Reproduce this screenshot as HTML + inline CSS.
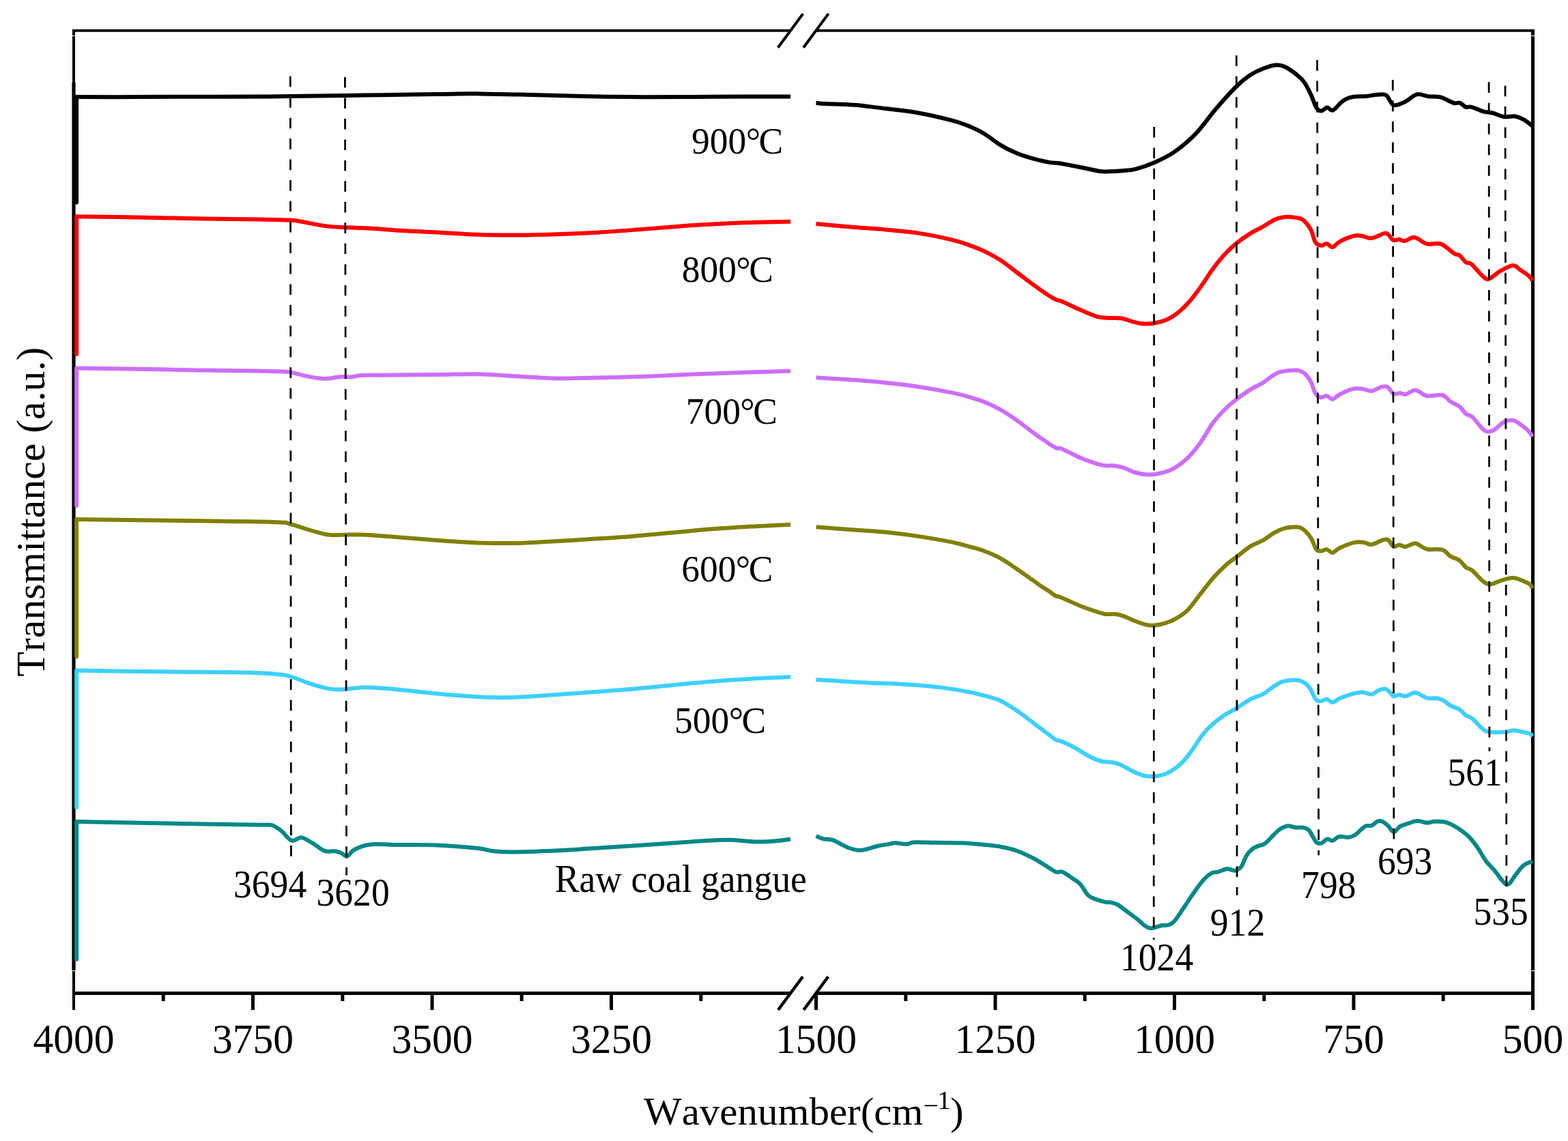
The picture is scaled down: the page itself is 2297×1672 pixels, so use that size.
<!DOCTYPE html>
<html lang="en"><head><meta charset="utf-8"><title>FTIR spectra of coal gangue calcined at different temperatures</title>
<style>html,body{margin:0;padding:0;background:#fff}body{width:2297px;height:1672px;overflow:hidden}svg{display:block}text{font-family:"Liberation Serif","Noto Serif CJK SC",serif;fill:#000;font-kerning:none}.t{font-size:59.6px;text-anchor:middle}.l{font-size:53.6px}.a{font-size:59px}.c{fill:none;stroke-width:6;stroke-linejoin:round;stroke-linecap:butt}.d{stroke:#000;stroke-width:2.75;stroke-dasharray:15.6 14.87;fill:none}.x{stroke:#000;fill:none}</style></head><body>
<svg width="2297" height="1672" viewBox="0 0 2297 1672">
<desc>FTIR spectra of raw coal gangue and of coal gangue calcined at 500℃, 600℃, 700℃, 800℃ and 900℃.</desc>
<rect width="2297" height="1672" fill="#fff"/>
<g class="x">
<line x1="108" y1="43" x2="108" y2="52" stroke-width="4"/>
<line x1="108" y1="53" x2="108" y2="121" stroke-width="4"/>
<line x1="108" y1="121" x2="108" y2="1422" stroke-width="5.2"/>
<line x1="108" y1="1423" x2="108" y2="1480" stroke-width="4"/>
<path d="M106,44.9H1157M1196.5,44.9H2248" stroke-width="3.8"/>
<path d="M2245.5,43V52M2245.5,53V1422M2245.5,1423V1480" stroke-width="5"/>
<path d="M106,1455.5H1157M1195.5,1455.5H2248" stroke-width="5"/>
<path d="M370.5,1455.5V1480M633,1455.5V1480M895.5,1455.5V1480M1195.5,1455.5V1480M1458,1455.5V1480M1720.5,1455.5V1480M1983,1455.5V1480" stroke-width="5"/>
<path d="M239.2,1455.5V1467M501.8,1455.5V1467M764.2,1455.5V1467M1026.8,1455.5V1467M1326.8,1455.5V1467M1589.2,1455.5V1467M1851.8,1455.5V1467M2114.2,1455.5V1467" stroke-width="5"/>
<line x1="1139.7" y1="69.7" x2="1176.3" y2="20.1" stroke-width="4.0"/>
<line x1="1177" y1="69.7" x2="1213.6" y2="20.1" stroke-width="4.0"/>
<line x1="1140" y1="1479.9" x2="1176" y2="1431.1" stroke-width="4.3"/>
<line x1="1177.3" y1="1479.9" x2="1213.3" y2="1431.1" stroke-width="4.3"/>
</g>
<g class="c" stroke="#008888">
<path d="M112.1,1405.8V1203.9" stroke-linecap="round"/>
<path d="M112.1,1203.9C125.1,1204.2 164.2,1205 190,1205.5C215.8,1206 243.4,1206.6 266.7,1207C290,1207.4 310.3,1207.7 330,1208C349.7,1208.3 373.8,1208.5 385,1208.7C396.2,1208.9 394.2,1208.6 397,1208.9C399.8,1209.2 399,1209.2 401.5,1210.6C404,1212 407.6,1213.9 411.9,1217.4C416.2,1220.9 422.6,1230.1 427.4,1231.7C432.2,1233.3 436.7,1227.4 440.5,1227.2C444.3,1227 446.2,1228.8 450,1230.8C453.8,1232.8 458.6,1236.3 463,1239C467.4,1241.7 471.6,1245.8 476.2,1247.2C480.8,1248.6 486.5,1246.7 490.5,1247.2C494.5,1247.7 497,1248.7 500,1250C503,1251.3 505.5,1255.5 508.3,1255C511.1,1254.5 513.3,1249.1 516.7,1246.7C520.1,1244.3 523.9,1242.4 528.6,1240.8C533.4,1239.2 537.3,1237.7 545.2,1237.2C553.1,1236.7 560.4,1237.7 576.2,1237.9C592,1238.1 619.5,1237.5 640,1238.4C660.5,1239.3 685.6,1241.6 699.5,1243.1C713.4,1244.6 714.5,1246.3 723.3,1247.2C732,1248.1 736.1,1248.8 752,1248.6C767.9,1248.4 798.9,1247.1 818.6,1246.2C838.3,1245.3 852.1,1244.1 870,1243C887.9,1241.9 907.4,1240.8 925.7,1239.6C944,1238.4 962.1,1237.1 980,1235.8C997.9,1234.5 1018.1,1232.8 1032.9,1232C1047.7,1231.2 1059.1,1230.8 1068.6,1230.8C1078.1,1230.8 1082.9,1231.7 1090,1232.2C1097.1,1232.7 1103.1,1233.6 1111.4,1233.6C1119.7,1233.6 1132.2,1232.7 1140,1232C1147.8,1231.3 1155,1230 1158,1229.6"/>
<path d="M1195.5,1225.2C1197.3,1225.9 1202,1228.3 1206.2,1229.3C1210.4,1230.3 1214.5,1229.1 1220.5,1231.2C1226.5,1233.3 1235.2,1239.4 1241.9,1241.9C1248.7,1244.4 1253.8,1246.3 1261,1246C1268.2,1245.7 1278.1,1241.5 1284.8,1240C1291.5,1238.5 1296.9,1237.9 1301.4,1237.1C1306,1236.3 1307.7,1235.2 1312.1,1235.2C1316.5,1235.2 1323,1237.2 1327.6,1237.1C1332.2,1236.9 1332.3,1234.7 1339.5,1234.3C1346.7,1233.9 1359,1234.6 1370.5,1234.8C1382,1235 1396.7,1234.7 1408.6,1235.2C1420.5,1235.7 1432,1236.9 1441.9,1237.9C1451.8,1238.9 1460.2,1239.7 1468.1,1241.2C1476,1242.7 1482,1244 1489.5,1246.7C1497,1249.4 1506.5,1254 1513.3,1257.4C1520,1260.9 1524.4,1264 1530,1267.4C1535.6,1270.8 1542.3,1275.9 1546.7,1277.6C1551.1,1279.3 1552.2,1276.1 1556.2,1277.6C1560.2,1279.1 1566.1,1283.7 1570.5,1286.7C1574.9,1289.7 1578.4,1291.3 1582.4,1295.5C1586.4,1299.7 1590.3,1308.3 1594.3,1312.1C1598.3,1315.9 1601.8,1316.4 1606.2,1318.1C1610.6,1319.8 1616.9,1321.4 1620.5,1322.1C1624.1,1322.8 1624.8,1321.8 1627.6,1322.4C1630.4,1323 1633.1,1323.4 1637.1,1325.7C1641.1,1328 1646.6,1332.5 1651.4,1336C1656.2,1339.5 1661.3,1343.2 1665.7,1346.7C1670.1,1350.2 1674.6,1354.7 1677.6,1356.9C1680.6,1359.1 1681.6,1359.3 1683.6,1359.8C1685.6,1360.3 1686.5,1360.4 1689.5,1359.8C1692.5,1359.2 1697.8,1356.9 1701.4,1356.2C1705,1355.5 1707.9,1356.5 1711,1355.5C1714.1,1354.5 1716.1,1354.5 1720,1350.2C1723.9,1346 1729.5,1336.9 1734.3,1330C1739.1,1323.1 1743.8,1315.3 1748.6,1308.6C1753.4,1301.8 1758.5,1294.3 1762.9,1289.5C1767.3,1284.7 1771.2,1281.5 1774.8,1279.5C1778.4,1277.5 1780.5,1278.6 1784.3,1277.6C1788.1,1276.6 1793.8,1273.7 1797.4,1273.3C1801,1272.9 1803.3,1274.9 1805.7,1275.2C1808.1,1275.5 1809.5,1276.2 1811.7,1275.2C1813.9,1274.2 1816.4,1272.9 1818.8,1269.3C1821.2,1265.7 1823.4,1258 1826,1253.8C1828.6,1249.6 1831.3,1246.7 1834.3,1244.3C1837.3,1241.9 1840.6,1240.9 1843.8,1239.5C1847,1238.1 1849.7,1238.6 1853.3,1236C1856.9,1233.4 1861.6,1227.5 1865.2,1224C1868.8,1220.5 1871.2,1217.5 1874.8,1215.2C1878.4,1212.9 1882.9,1210.6 1886.7,1210.2C1890.5,1209.8 1893.6,1212.2 1897.4,1212.6C1901.2,1213 1905.9,1211.9 1909.3,1212.6C1912.7,1213.3 1915,1214.2 1917.6,1216.9C1920.2,1219.6 1922.8,1225.8 1924.8,1228.8C1926.8,1231.8 1927.5,1234.1 1929.5,1235.2C1931.5,1236.3 1934.2,1236.2 1936.7,1235.2C1939.2,1234.2 1941.7,1230 1944.3,1229.5C1946.9,1229 1949.2,1232.5 1952.1,1231.9C1955,1231.3 1957.9,1226.8 1961.7,1226C1965.5,1225.2 1971,1227.2 1974.8,1226.9C1978.6,1226.6 1981.1,1225.9 1984.3,1224C1987.5,1222.1 1991,1218 1993.8,1215.7C1996.6,1213.4 1998.4,1211.2 2001,1210.2C2003.6,1209.2 2006.5,1210.9 2009.3,1209.8C2012.1,1208.7 2015,1204.8 2017.6,1203.8C2020.2,1202.8 2022.2,1202.8 2024.8,1203.8C2027.4,1204.8 2030.2,1207.2 2033.1,1209.8C2035.9,1212.4 2038.9,1219.1 2041.9,1219.3C2044.9,1219.5 2047.5,1213.1 2051,1211C2054.5,1208.9 2058.7,1208 2062.9,1206.7C2067.1,1205.4 2071.4,1203.3 2076,1203.1C2080.6,1202.9 2086,1205.6 2090.2,1205.7C2094.4,1205.8 2096.8,1204 2101,1203.8C2105.2,1203.6 2110.8,1203.5 2115.2,1204.3C2119.5,1205.1 2122.7,1206.4 2127.1,1208.6C2131.5,1210.8 2137,1214.4 2141.4,1217.6C2145.8,1220.8 2149.3,1223.3 2153.3,1227.6C2157.3,1231.8 2161.2,1237.3 2165.2,1243.1C2169.2,1248.8 2173.1,1256.8 2177.1,1262.1C2181.1,1267.4 2185,1270.4 2189,1275.2C2193,1280 2198,1287.2 2201,1290.7C2204,1294.2 2205.1,1295.4 2206.9,1296C2208.7,1296.6 2209.5,1296.6 2211.7,1294.3C2213.9,1292 2216.6,1286.8 2220,1282.4C2223.4,1278 2227.7,1271.5 2231.9,1268.1C2236.1,1264.7 2242.8,1263.1 2245,1262.1"/>
</g>
<g class="c" stroke="#3dd0ff">
<path d="M112.1,1183.3V982.5" stroke-linecap="round"/>
<path d="M112.1,982.5C133.4,982.8 198.3,983.8 240,984.3C281.6,984.8 333.8,984.8 362,985.5C390.2,986.2 398.8,987.4 409.5,988.4C420.2,989.4 418.3,989.1 426.2,991.5C434.1,993.9 447.9,999.8 457,1002.7C466.1,1005.6 473.4,1007.8 481,1009.1C488.6,1010.4 494.5,1010.6 502.4,1010.3C510.3,1010 520.7,1007.8 528.6,1007.4C536.5,1007 542.1,1007.4 550,1007.8C557.9,1008.2 561.2,1008.3 576.2,1009.8C591.2,1011.2 621,1014.7 640,1016.5C659,1018.3 674.2,1019.5 690,1020.5C705.8,1021.5 721.7,1022.1 735,1022.2C748.3,1022.3 758,1021.6 770,1021C782,1020.4 790.9,1019.7 806.7,1018.6C822.5,1017.5 845.2,1015.8 865,1014.3C884.8,1012.8 905.7,1011.5 925.7,1009.8C945.7,1008.1 965.1,1005.9 985,1004C1004.9,1002.1 1025.6,999.9 1044.8,998.4C1064,996.9 1081.1,995.8 1100,994.7C1118.9,993.6 1148.3,992.5 1158,992"/>
<path d="M1195.5,996C1200.8,996.3 1214.3,997.1 1227.6,997.9C1240.9,998.7 1261.3,1000 1275.2,1000.7C1289.1,1001.4 1299.1,1001.3 1311,1001.9C1322.9,1002.5 1334.8,1003.3 1346.7,1004.3C1358.6,1005.3 1370.5,1006.3 1382.4,1007.9C1394.3,1009.5 1408.1,1011.9 1418,1013.8C1427.9,1015.7 1434,1017.1 1441.9,1019.3C1449.9,1021.5 1457.8,1023.3 1465.7,1026.9C1473.6,1030.6 1481.6,1035.9 1489.5,1041.2C1497.4,1046.5 1505.4,1053 1513.3,1059C1521.2,1065 1531.5,1072.7 1537.1,1076.9C1542.7,1081.1 1543.7,1082.4 1546.7,1084C1549.7,1085.6 1550.6,1084.6 1555,1086.4C1559.4,1088.2 1566,1091 1572.9,1094.8C1579.9,1098.6 1590,1105.5 1596.7,1109C1603.4,1112.5 1608.2,1114.2 1613.3,1115.5C1618.4,1116.8 1623.2,1116.2 1627.6,1116.9C1632,1117.6 1633.9,1117.5 1639.5,1119.8C1645.1,1122.1 1654.7,1128.1 1661,1131C1667.3,1133.9 1672.4,1136 1677.6,1137.1C1682.8,1138.2 1687.1,1138 1691.9,1137.6C1696.7,1137.2 1701.5,1136.3 1706.2,1134.5C1710.9,1132.7 1715.7,1129.8 1720,1126.9C1724.3,1124.1 1727.5,1122 1731.9,1117.4C1736.3,1112.8 1741.4,1106 1746.2,1099.5C1751,1093 1755.7,1084.2 1760.5,1078.1C1765.3,1071.9 1769.6,1067.4 1774.8,1062.6C1780,1057.8 1785.2,1053.7 1791.4,1049.5C1797.6,1045.3 1804.9,1041.8 1811.7,1037.6C1818.5,1033.4 1825.7,1027.9 1832,1024.5C1838.3,1021.1 1844.6,1020.2 1849.8,1017.4C1855,1014.6 1858.4,1010.9 1862.9,1007.9C1867.5,1004.9 1872.3,1001.4 1877.1,999.5C1881.8,997.6 1887,997.1 1891.4,996.7C1895.8,996.3 1899.7,996.2 1903.3,997.1C1906.9,998 1910.1,999.7 1912.9,1001.9C1915.7,1004.1 1917.6,1006.4 1920,1010.2C1922.4,1014 1924.7,1021.6 1927.1,1024.5C1929.5,1027.4 1931.5,1027.6 1934.3,1027.6C1937.1,1027.6 1940.8,1024.2 1943.8,1024.5C1946.8,1024.8 1948.9,1029.5 1952.1,1029.3C1955.3,1029.1 1957.9,1025.4 1962.9,1023.3C1967.9,1021.2 1976.4,1018.2 1981.9,1016.7C1987.5,1015.2 1991.6,1014.4 1996.2,1014.5C2000.8,1014.6 2005.3,1017.9 2009.3,1017.4C2013.3,1016.9 2016.6,1012.7 2020,1011.4C2023.4,1010.1 2026.7,1008.9 2029.5,1009.5C2032.3,1010.1 2034.7,1013.2 2036.7,1015C2038.7,1016.8 2039.2,1019.7 2041.4,1020.2C2043.6,1020.7 2046.8,1017.9 2049.8,1017.9C2052.8,1017.9 2055.3,1020.7 2059.3,1020.2C2063.3,1019.7 2068.4,1014.5 2073.6,1015C2078.8,1015.5 2084.8,1021.5 2090.2,1022.9C2095.5,1024.3 2101.5,1022.6 2105.7,1023.3C2109.9,1024 2112,1025.1 2115.2,1026.9C2118.4,1028.7 2121,1031.9 2124.8,1034C2128.6,1036.1 2134.1,1037.1 2137.9,1039.5C2141.7,1041.9 2144.2,1046 2147.4,1048.3C2150.6,1050.6 2152.7,1049.7 2156.9,1053.1C2161.1,1056.5 2168.2,1065.3 2172.4,1068.6C2176.6,1071.8 2176.4,1071.9 2181.9,1072.6C2187.4,1073.3 2199.8,1073 2205.7,1072.6C2211.6,1072.2 2213.2,1070.2 2217.6,1070.2C2222,1070.2 2227.9,1072.1 2231.9,1072.9C2235.9,1073.7 2239.2,1074.2 2241.4,1075.2C2243.6,1076.2 2244.4,1078.2 2245,1078.8"/>
</g>
<g class="c" stroke="#808000">
<path d="M112.1,961.9V760.9" stroke-linecap="round"/>
<path d="M112.1,760.9C135.1,761.2 202,762.1 250,762.8C298,763.5 370.8,764 400,764.9C429.2,765.8 417,766.3 425,768C433,769.7 440.3,772.7 448,775C455.7,777.3 465.1,780.1 471.4,781.6C477.7,783.1 476.2,783.7 485.7,784C495.2,784.3 512.9,783 528.6,783.5C544.3,784 561.4,785.6 580,787C598.6,788.4 621.7,790.5 640,791.8C658.3,793.1 674.2,794.3 690,795C705.8,795.7 721.7,796 735,796.1C748.3,796.2 758,795.9 770,795.5C782,795.1 790.9,794.4 806.7,793.5C822.5,792.6 845.2,791.3 865,790C884.8,788.7 905.7,787.5 925.7,785.9C945.7,784.3 965.1,782.3 985,780.5C1004.9,778.7 1025.6,776.6 1044.8,775.1C1064,773.6 1081.1,772.6 1100,771.5C1118.9,770.4 1148.3,769.2 1158,768.7"/>
<path d="M1195.5,772.3C1204.8,773 1234.2,775.3 1251.4,776.6C1268.7,777.9 1283.1,778.5 1299,780.1C1314.9,781.7 1330.8,783.7 1346.7,786.1C1362.6,788.5 1382.4,792 1394.3,794.4C1406.2,796.8 1410.1,798.2 1418,800.4C1425.9,802.6 1434,804.5 1441.9,807.5C1449.9,810.5 1457.8,813.8 1465.7,818.2C1473.6,822.6 1481.6,828.3 1489.5,833.7C1497.4,839.1 1507.3,846.2 1513.3,850.4C1519.2,854.6 1521.2,856.3 1525.2,859C1529.2,861.7 1533.5,864.1 1537.1,866.5C1540.7,868.9 1543.7,871.8 1546.7,873.3C1549.7,874.8 1548.7,873.1 1555,875.7C1561.3,878.3 1575.9,885.2 1584.8,888.8C1593.7,892.4 1602.6,895.2 1608.6,897.1C1614.5,899 1616.1,899.5 1620.5,900C1624.9,900.5 1630.4,899.5 1634.8,900C1639.2,900.5 1642,901.4 1646.7,903.1C1651.5,904.8 1657.8,908.1 1663.3,910.2C1668.8,912.3 1675.2,914.7 1680,915.7C1684.8,916.7 1687.5,916.6 1691.9,916.2C1696.3,915.8 1701.5,914.7 1706.2,913.3C1710.9,911.9 1714.5,911 1720,907.9C1725.5,904.8 1732.7,900.9 1739,894.8C1745.3,888.6 1751.8,879 1758.1,871C1764.4,863 1770.8,854.2 1777.1,847C1783.4,839.8 1790.4,833 1796.2,827.8C1802,822.6 1805.7,820.5 1811.7,815.9C1817.7,811.3 1825.7,804.4 1832,800.4C1838.3,796.4 1843.9,795.4 1849.8,792C1855.7,788.6 1862.2,783.1 1867.6,780.1C1873,777.1 1877.2,775.5 1882,774.2C1886.8,772.9 1892.5,772.5 1896.2,772.3C1900,772.1 1901.7,771.9 1904.5,773C1907.3,774.1 1910.1,776.1 1912.9,778.9C1915.7,781.7 1918.6,785.3 1921.2,789.7C1923.8,794.1 1925.9,802.1 1928.3,805.1C1930.7,808.1 1932.9,807.5 1935.5,807.5C1938.1,807.5 1941,804.7 1943.8,805.1C1946.6,805.5 1948.9,810.3 1952.1,809.9C1955.3,809.5 1957.5,805.3 1962.9,802.8C1968.3,800.3 1978.3,796.2 1984.3,794.9C1990.2,793.6 1994.4,794.4 1998.6,794.9C2002.8,795.4 2004.5,798.7 2009.3,798C2014,797.3 2022.9,791.9 2027.1,790.9C2031.3,789.9 2031.9,790.3 2034.3,792C2036.7,793.7 2038.8,800 2041.4,801.1C2044,802.2 2046.8,798.5 2049.8,798.5C2052.8,798.5 2055.3,801.5 2059.3,801.1C2063.3,800.7 2068.4,795.7 2073.6,796.3C2078.8,796.9 2083.6,803.2 2090.2,804.7C2096.8,806.2 2107.1,803.9 2112.9,805.6C2118.7,807.3 2120.6,812.5 2124.8,815.1C2129,817.7 2134.1,818.4 2137.9,821.1C2141.7,823.8 2144.2,828.8 2147.4,831.3C2150.6,833.8 2152.7,832.7 2156.9,836.1C2161.1,839.5 2168,848.2 2172.4,851.6C2176.8,855 2178.7,856.4 2183.1,856.3C2187.5,856.2 2193,852.5 2198.6,850.9C2204.2,849.3 2210.8,846.7 2216.4,846.8C2222,846.9 2227.7,850 2231.9,851.6C2236.1,853.2 2239.2,854.5 2241.4,856.3C2243.6,858.1 2244.4,861.3 2245,862.3"/>
</g>
<g class="c" stroke="#cc6eff">
<path d="M112.1,741V539.4" stroke-linecap="round"/>
<path d="M112.1,539.4C126.8,539.6 170.3,540.2 200,540.7C229.7,541.2 265.5,542.1 290.5,542.5C315.5,542.9 330.2,543 350,543.3C369.8,543.6 397,543.9 409.5,544.2C422,544.6 417.9,544.1 425,545.4C432.1,546.7 443.9,550.2 452.4,551.8C460.9,553.4 468.3,554.9 476.2,554.9C484.1,554.9 493.6,552.4 500,552C506.4,551.6 509.5,552.8 514.3,552.5C519.1,552.2 521,550.6 528.6,550.1C536.2,549.6 541.4,550 560,549.8C578.6,549.6 616.3,549.3 640,549C663.7,548.7 683.7,547.9 702,548.2C720.3,548.5 732.5,550 750,551C767.5,552 790,553.7 806.7,554.2C823.4,554.7 834.1,554.2 850,554C865.9,553.8 883.7,553.5 902,553C920.3,552.5 940.2,551.8 960,551C979.8,550.2 999.3,549.1 1021,548.2C1042.7,547.3 1067.2,546.5 1090,545.8C1112.8,545 1146.7,544.1 1158,543.7"/>
<path d="M1195.5,553.2C1204.8,553.8 1234.2,555.5 1251.4,556.8C1268.7,558.1 1283.1,559.4 1299,561.1C1314.9,562.8 1330.8,564.6 1346.7,567C1362.6,569.4 1382.4,573 1394.3,575.4C1406.2,577.8 1410.1,579 1418,581.3C1425.9,583.6 1434,585.8 1441.9,589C1449.9,592.2 1457.8,595.9 1465.7,600.4C1473.6,604.9 1481.6,610.3 1489.5,615.9C1497.4,621.5 1505.4,628 1513.3,633.7C1521.2,639.5 1531.3,646.5 1537.1,650.4C1542.9,654.2 1544.9,655.6 1547.9,656.8C1550.9,658 1548.8,655 1555,657.5C1561.2,660 1575.9,668 1584.8,671.8C1593.7,675.6 1602.6,678.3 1608.6,680.1C1614.5,681.9 1616.5,682.1 1620.5,682.5C1624.5,682.9 1628,682 1632.4,682.5C1636.8,683 1641.6,683.9 1646.7,685.6C1651.8,687.3 1657.3,690.8 1663.3,692.5C1669.2,694.2 1676.1,695.5 1682.4,695.6C1688.8,695.7 1695.1,694.8 1701.4,693.2C1707.7,691.6 1713.7,689.7 1720,686.1C1726.3,682.5 1732.7,677.9 1739,671.8C1745.3,665.6 1751.8,657.9 1758.1,649.2C1764.4,640.5 1770.8,627.9 1777.1,619.4C1783.4,610.9 1790.4,603.8 1796.2,598C1802,592.2 1805.7,589.5 1811.7,584.9C1817.7,580.3 1825.7,574.6 1832,570.6C1838.3,566.6 1844.6,564.3 1849.8,561.1C1855,557.9 1858.7,554.3 1862.9,551.6C1867.1,548.9 1870.5,546.5 1874.8,545.1C1879.1,543.7 1884.6,543.4 1889,543C1893.4,542.6 1897.4,542.2 1901,542.8C1904.6,543.4 1907.3,544.1 1910.5,546.8C1913.7,549.4 1917.2,553.7 1920,558.7C1922.8,563.7 1924.7,572.6 1927.1,576.6C1929.5,580.6 1931.5,581.9 1934.3,582.5C1937.1,583.1 1940.8,579.7 1943.8,580.1C1946.8,580.5 1948.9,585.3 1952.1,584.9C1955.3,584.5 1957.9,580.3 1962.9,577.8C1967.9,575.3 1976.4,571.2 1981.9,569.9C1987.5,568.6 1991.6,569.4 1996.2,569.9C2000.8,570.4 2004.5,573.5 2009.3,573C2014.1,572.5 2020.8,567.5 2024.8,566.6C2028.8,565.7 2030.3,565.8 2033.1,567.5C2035.9,569.2 2038.4,575.6 2041.4,577C2044.4,578.4 2048,576 2051,576.1C2054,576.2 2055.5,578.5 2059.3,577.8C2063.1,577.1 2068.4,571.4 2073.6,571.8C2078.8,572.2 2083.6,578.9 2090.2,580.1C2096.8,581.3 2107.1,577.6 2112.9,579C2118.7,580.4 2120.6,585.7 2124.8,588.5C2129,591.3 2134.1,592.6 2137.9,595.6C2141.7,598.6 2144.2,603.7 2147.4,606.3C2150.6,608.9 2152.7,607.3 2156.9,611.1C2161.1,614.9 2168.4,625.4 2172.4,629C2176.4,632.6 2178.2,632.5 2181.2,632.5C2184.2,632.5 2186.5,631.4 2190.2,629C2193.9,626.6 2198.9,620.4 2203.3,618.2C2207.7,616 2212.4,615.3 2216.4,615.9C2220.4,616.5 2223.3,619.2 2227.1,621.8C2230.9,624.4 2236,628.3 2239,631.3C2242,634.3 2244,638.3 2245,639.7"/>
</g>
<g class="c" stroke="#ff0000">
<path d="M112.1,519V317.3" stroke-linecap="round"/>
<path d="M112.1,317.3C126.8,317.5 168.7,318 200,318.5C231.3,319 270,320 300,320.5C330,321 359.2,321.1 380,321.5C400.8,321.9 415,322.1 425,322.6C435,323.1 431.1,323 440,324.5C448.9,326 467.5,329.9 478.6,331.4C489.7,332.9 496.5,332.8 506.7,333.3C516.9,333.8 526.1,333.7 540,334.5C553.9,335.3 573.3,337 590,338C606.7,339 623.3,339.6 640,340.5C656.7,341.4 674.2,342.8 690,343.5C705.8,344.2 720,344.4 735,344.5C750,344.6 764.2,344.6 780,344.3C795.8,344 813.7,343.4 830,342.8C846.3,342.2 859.7,341.6 878,340.5C896.3,339.4 920.2,337.5 940,336C959.8,334.5 979.5,332.6 997,331.4C1014.5,330.1 1029.2,329.4 1045,328.5C1060.8,327.6 1073.2,326.8 1092,326.2C1110.8,325.6 1147,325 1158,324.8"/>
<path d="M1195.5,328.1C1204.8,328.9 1234.2,331.5 1251.4,332.9C1268.7,334.3 1283.1,335.2 1299,336.7C1314.9,338.2 1330.8,339.4 1346.7,341.9C1362.6,344.3 1382.4,348.6 1394.3,351.4C1406.2,354.2 1410.1,355.8 1418,358.6C1425.9,361.4 1434,364.3 1441.9,368.1C1449.9,371.9 1457.8,376.1 1465.7,381.2C1473.6,386.3 1481.6,393.1 1489.5,399C1497.4,404.9 1505.4,411.1 1513.3,416.9C1521.2,422.7 1531.5,429.9 1537.1,433.6C1542.7,437.3 1543.5,437.6 1546.7,439C1549.9,440.4 1550,439.3 1556.2,441.9C1562.4,444.5 1575.3,450.9 1583.9,454.6C1592.5,458.3 1600.8,462.2 1607.7,464.1C1614.7,466 1619.6,465.5 1625.6,465.9C1631.6,466.3 1637.9,465.6 1643.5,466.5C1649.1,467.4 1654,470 1659,471.3C1664,472.6 1669,473.8 1673.4,474.3C1677.8,474.8 1682.3,474.5 1685.3,474.3C1688.3,474.1 1688.3,474 1691.3,473.4C1694.3,472.8 1699.2,472 1703.2,470.7C1707.2,469.4 1711.1,467.6 1715.1,465.3C1719.1,463 1723.1,460.3 1727.1,457C1731.1,453.7 1735,449.9 1739,445.6C1743,441.3 1746.9,436.5 1750.9,431.3C1754.9,426.1 1758.9,420.4 1762.9,414.6C1766.9,408.8 1770.8,402.3 1774.8,396.7C1778.8,391.1 1783.1,385.6 1786.7,381.2C1790.3,376.8 1792,374.7 1796.2,370.5C1800.4,366.3 1805.7,361 1811.7,356.2C1817.7,351.4 1825.7,345.9 1832,341.9C1838.3,337.9 1843.9,335.8 1849.8,332.4C1855.7,329 1862.2,324.1 1867.6,321.7C1873,319.3 1877.2,318.6 1882,318.1C1886.8,317.6 1891.9,318 1896.2,318.6C1900.5,319.2 1904,318.8 1908,321.7C1912,324.6 1916.8,330.4 1920,336C1923.2,341.6 1924.4,351 1927,355C1929.6,359 1932.7,359.5 1935.5,359.8C1938.3,360.1 1941,356.5 1943.8,356.9C1946.5,357.3 1948.8,362.6 1952,362.1C1955.2,361.6 1957.6,356.6 1963,353.8C1968.4,351 1978.8,346.8 1984.3,345.5C1989.8,344.2 1992,345.4 1996.2,346C2000.4,346.6 2004,349.7 2009.3,349C2014.6,348.3 2024.1,342.7 2028.3,341.9C2032.5,341.1 2032.1,342.6 2034.3,344.3C2036.5,346 2038.8,351 2041.4,352.1C2044,353.2 2047,350.5 2049.8,350.7C2052.6,350.9 2054.2,353.6 2058,353.1C2061.8,352.6 2067,347.2 2072.4,347.9C2077.8,348.6 2083.8,355.8 2090.2,357.4C2096.5,359 2103.8,355 2110.5,357.4C2117.2,359.8 2126.1,368.9 2130.7,371.7C2135.3,374.5 2135.1,371.9 2137.9,374C2140.7,376.1 2144.4,382.1 2147.4,384.3C2150.4,386.5 2151.5,383.7 2155.7,387.1C2159.9,390.6 2168.2,401.4 2172.4,405C2176.7,408.6 2176.8,410 2181.2,408.6C2185.6,407.2 2192.7,400 2198.6,396.7C2204.5,393.4 2211.7,389.2 2216.4,389C2221.2,388.8 2223.3,393 2227.1,395.5C2230.9,398 2236,401.2 2239,403.8C2242,406.4 2244,409.8 2245,411"/>
</g>
<g class="c" stroke="#000000">
<path d="M112.1,296.5V142.1" stroke-linecap="round"/>
<path d="M112.1,142.1C126.8,142.1 170.3,142.2 200,142.1C229.7,142 260,141.8 290,141.7C320,141.6 357.5,141.7 380,141.6C402.5,141.5 404.2,141.3 425,141C445.8,140.7 482.5,140.3 505,140C527.5,139.7 537.5,139.5 560,139.2C582.5,138.9 616,138.4 640,138.1C664,137.8 680.7,137.2 704,137.4C727.3,137.6 755,138.4 780,139C805,139.6 829.7,140.5 854,141C878.3,141.5 901.4,141.9 925.7,142.1C950,142.3 972.6,142.1 1000,142C1027.4,141.9 1063.7,141.7 1090,141.6C1116.3,141.5 1146.7,141.4 1158,141.4"/>
<path d="M1195.5,150.7C1197.7,150.9 1199.3,151.6 1208.6,152.1C1217.9,152.6 1236.3,152.6 1251.4,153.8C1266.5,155 1283.1,157.3 1299,159.3C1314.9,161.3 1330.8,162.8 1346.7,165.7C1362.6,168.5 1382.4,173.3 1394.3,176.4C1406.2,179.5 1410.1,181 1418,184.3C1425.9,187.6 1434,191.3 1441.9,196C1449.9,200.7 1457.8,207.8 1465.7,212.6C1473.6,217.3 1481.6,221.2 1489.5,224.5C1497.4,227.8 1505.4,230.2 1513.3,232.4C1521.2,234.6 1530.2,236.7 1537,237.9C1543.8,239.1 1545.8,238.2 1553.8,239.5C1561.8,240.8 1575.7,243.7 1584.8,245.5C1593.9,247.3 1602.6,249.5 1608.6,250.5C1614.5,251.5 1614.5,251.5 1620.5,251.4C1626.5,251.3 1637.2,250.8 1644.3,250.2C1651.4,249.6 1655.6,249.9 1663.3,247.9C1671,245.9 1681.2,242.5 1690.7,238.3C1700.2,234.1 1710,229.8 1720,222.9C1730,216 1741,207 1751,196.7C1761,186.4 1770,172.7 1780,161C1790,149.3 1802.8,134.9 1811.3,126.5C1819.8,118 1824.4,114.7 1831,110.3C1837.6,105.9 1844.5,102.7 1851,100.2C1857.5,97.7 1864.8,95.6 1870,95.2C1875.2,94.8 1876.9,95.3 1882,97.8C1887.1,100.3 1895.9,106.4 1900.8,110.3C1905.7,114.2 1907.9,116.6 1911.2,121.4C1914.5,126.2 1917.8,133.3 1920.7,139.4C1923.6,145.5 1926,154.2 1928.5,158C1931,161.8 1933,162.5 1935.6,162.4C1938.2,162.3 1941.5,157.7 1944.3,157.6C1947.1,157.5 1949,162.9 1952.5,161.6C1956,160.3 1961.7,152.6 1965,149.8C1968.3,147 1969.6,146 1972.6,144.7C1975.6,143.3 1978.2,142.3 1983,141.7C1987.8,141.1 1995.8,141.4 2001.5,140.9C2007.2,140.4 2012.4,139 2017.3,138.8C2022.2,138.6 2026.7,137 2030.7,139.5C2034.7,142 2036.7,152.4 2041.4,154C2046.1,155.6 2053,151.6 2058.7,149C2064.4,146.4 2069.9,139.6 2075.5,138.3C2081.1,137 2086.5,140.5 2092.3,141.2C2098.1,141.9 2104.1,140.8 2110.3,142.4C2116.5,144 2124.6,149.4 2129.3,150.8C2134.1,152.2 2135.8,149.8 2138.8,150.8C2141.8,151.8 2144.5,155.8 2147.3,156.8C2150.1,157.8 2151.4,155.7 2155.7,156.8C2160,157.9 2167.9,161.9 2173,163.3C2178.1,164.8 2181.4,164.2 2186.5,165.5C2191.6,166.8 2198.3,170.4 2203.8,171.2C2209.3,172 2214.6,169.7 2219.6,170.5C2224.6,171.3 2229.4,173.8 2233.6,176.2C2237.8,178.6 2243.1,183.4 2245,184.8"/>
</g>
<g class="d">
<line x1="425.3" y1="111.7" x2="426.4" y2="1255.7"/>
<line x1="505.4" y1="113" x2="507.6" y2="1282.4"/>
<line x1="1690.7" y1="186" x2="1690.2" y2="1377.1"/>
<line x1="1811.3" y1="81.2" x2="1812.1" y2="1311.7"/>
<line x1="1929.6" y1="88.1" x2="1931.7" y2="1253.3"/>
<line x1="2040.3" y1="117.1" x2="2041.9" y2="1230"/>
<line x1="2181.1" y1="120.3" x2="2181.9" y2="1100.7"/>
<line x1="2205" y1="125.6" x2="2206.9" y2="1299"/>
</g>
<text class="l" style="font-size:53.4px" transform="translate(1013.1,224.6) scale(1,1.024)" dx="0 0 0 -0.5 -2.5" dy="0 0 0 0.6 -0.6">900°C</text>
<text class="l" style="font-size:53.4px" transform="translate(998.8,413.4) scale(1,1.024)" dx="0 0 0 -0.5 -2.5" dy="0 0 0 0.6 -0.6">800°C</text>
<text class="l" style="font-size:53.4px" transform="translate(1004.8,620.7) scale(1,1.024)" dx="0 0 0 -0.5 -2.5" dy="0 0 0 0.6 -0.6">700°C</text>
<text class="l" style="font-size:53.4px" transform="translate(998.3,851.6) scale(1,1.024)" dx="0 0 0 -0.5 -2.5" dy="0 0 0 0.6 -0.6">600°C</text>
<text class="l" style="font-size:53.4px" transform="translate(988.1,1073.7) scale(1,1.024)" dx="0 0 0 -0.5 -2.5" dy="0 0 0 0.6 -0.6">500°C</text>
<text class="l" transform="translate(812.8,1306.8) scale(1,1.045)">Raw coal gangue</text>
<text class="l" transform="translate(342,1314.5) scale(1,1.065)">3694</text>
<text class="l" transform="translate(463.5,1326.9) scale(1,1.065)">3620</text>
<text class="l" transform="translate(1641,1421.7) scale(1,1.065)">1024</text>
<text class="l" transform="translate(1772.8,1371.2) scale(1,1.065)">912</text>
<text class="l" transform="translate(1906.1,1316.4) scale(1,1.065)">798</text>
<text class="l" transform="translate(2018,1281.2) scale(1,1.065)">693</text>
<text class="l" transform="translate(2158.5,1355) scale(1,1.065)">535</text>
<text class="l" transform="translate(2120.4,1150.7) scale(1,1.065)">561</text>
<text class="t" transform="translate(108,1543.3) scale(1,1.025)">4000</text>
<text class="t" transform="translate(370.5,1543.3) scale(1,1.025)">3750</text>
<text class="t" transform="translate(633,1543.3) scale(1,1.025)">3500</text>
<text class="t" transform="translate(895.5,1543.3) scale(1,1.025)">3250</text>
<text class="t" transform="translate(1195.5,1543.3) scale(1,1.025)">1500</text>
<text class="t" transform="translate(1458,1543.3) scale(1,1.025)">1250</text>
<text class="t" transform="translate(1720.5,1543.3) scale(1,1.025)">1000</text>
<text class="t" transform="translate(1983,1543.3) scale(1,1.025)">750</text>
<text class="t" transform="translate(2245.5,1543.3) scale(1,1.025)">500</text>
<text class="a" transform="translate(943,1647.7) scale(1,0.95)">Wavenumber(cm<tspan font-size="40" dy="-16">−</tspan><tspan font-size="40" dx="-2" dy="-8">1</tspan><tspan dx="-1" dy="24">)</tspan></text>
<text class="a" style="font-size:59.75px" text-anchor="middle" transform="translate(64.9,750.1) rotate(-90)">Transmittance (a.u.)</text>
</svg></body></html>
